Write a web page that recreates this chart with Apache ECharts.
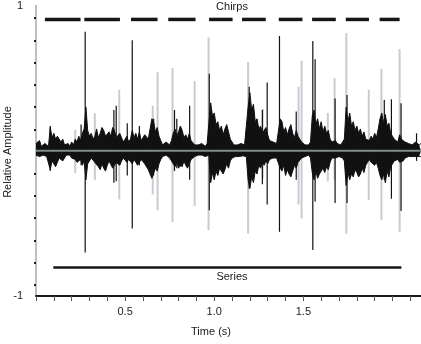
<!DOCTYPE html>
<html>
<head>
<meta charset="utf-8">
<script src="https://cdn.jsdelivr.net/npm/echarts@6/dist/echarts.min.js"></script>
<style>
  html, body { margin: 0; padding: 0; background: #fff; }
  #chart { width: 421px; height: 344px; }
</style>
</head>
<body>
<div id="chart"></div>
<script>
// waveform envelope sampled every 0.01 s (relative amplitude), rows of 0.1 s
const envStep = 0.01;
const envUpper = [
  0.05, 0.04, 0.07, 0.03, 0.04, 0.05, 0.05, 0.03, 0.16, 0.09,
  0.12, 0.08, 0.10, 0.11, 0.06, 0.08, 0.04, 0.05, 0.05, 0.03,
  0.06, 0.04, 0.08, 0.06, 0.10, 0.07, 0.12, 0.15, 0.30, 0.14,
  0.10, 0.12, 0.08, 0.10, 0.15, 0.09, 0.12, 0.16, 0.14, 0.10,
  0.11, 0.13, 0.10, 0.16, 0.14, 0.09, 0.10, 0.12, 0.09, 0.06,
  0.07, 0.10, 0.06, 0.08, 0.14, 0.09, 0.12, 0.08, 0.13, 0.07,
  0.09, 0.11, 0.12, 0.08, 0.15, 0.22, 0.20, 0.13, 0.16, 0.10,
  0.07, 0.04, 0.05, 0.06, 0.05, 0.04, 0.07, 0.12, 0.15, 0.10,
  0.13, 0.17, 0.14, 0.09, 0.11, 0.08, 0.12, 0.07, 0.06, 0.04,
  0.05, 0.04, 0.04, 0.05, 0.05, 0.03, 0.05, 0.06, 0.33, 0.24,
  0.26, 0.18, 0.20, 0.14, 0.17, 0.11, 0.15, 0.18, 0.13, 0.08,
  0.06, 0.04, 0.05, 0.04, 0.04, 0.05, 0.05, 0.04, 0.05, 0.30,
  0.40, 0.28, 0.32, 0.20, 0.22, 0.15, 0.17, 0.12, 0.13, 0.16,
  0.11, 0.07, 0.08, 0.06, 0.07, 0.05, 0.06, 0.22, 0.20, 0.13,
  0.16, 0.11, 0.15, 0.18, 0.12, 0.09, 0.14, 0.10, 0.08, 0.06,
  0.06, 0.04, 0.05, 0.04, 0.06, 0.24, 0.28, 0.18, 0.22, 0.15,
  0.20, 0.13, 0.17, 0.12, 0.14, 0.08, 0.06, 0.05, 0.07, 0.05,
  0.05, 0.04, 0.06, 0.08, 0.30, 0.20, 0.26, 0.17, 0.20, 0.14,
  0.17, 0.12, 0.15, 0.10, 0.13, 0.08, 0.09, 0.07, 0.10, 0.08,
  0.12, 0.09, 0.15, 0.22, 0.26, 0.19, 0.25, 0.17, 0.19, 0.12,
  0.12, 0.08, 0.09, 0.06, 0.11, 0.08, 0.09, 0.06, 0.07, 0.05,
  0.06, 0.04, 0.05, 0.06, 0.07, 0.04, 0.05
];
const envLower = [
  -0.03, -0.02, -0.04, -0.03, -0.03, -0.04, -0.04, -0.03, -0.13, -0.07,
  -0.09, -0.11, -0.08, -0.05, -0.06, -0.07, -0.05, -0.03, -0.04, -0.03,
  -0.05, -0.04, -0.06, -0.08, -0.09, -0.06, -0.10, -0.07, -0.20, -0.09,
  -0.07, -0.05, -0.06, -0.08, -0.09, -0.11, -0.13, -0.09, -0.12, -0.14,
  -0.10, -0.07, -0.08, -0.12, -0.11, -0.08, -0.08, -0.10, -0.07, -0.05,
  -0.06, -0.08, -0.06, -0.05, -0.09, -0.06, -0.08, -0.10, -0.09, -0.06,
  -0.07, -0.09, -0.10, -0.13, -0.14, -0.19, -0.18, -0.12, -0.14, -0.09,
  -0.06, -0.04, -0.04, -0.03, -0.04, -0.05, -0.05, -0.09, -0.11, -0.08,
  -0.12, -0.09, -0.11, -0.07, -0.10, -0.12, -0.09, -0.06, -0.05, -0.04,
  -0.04, -0.03, -0.04, -0.03, -0.03, -0.04, -0.04, -0.03, -0.22, -0.15,
  -0.20, -0.14, -0.17, -0.12, -0.14, -0.16, -0.13, -0.09, -0.12, -0.07,
  -0.05, -0.04, -0.04, -0.03, -0.04, -0.03, -0.035, -0.04, -0.04, -0.20,
  -0.26, -0.18, -0.22, -0.14, -0.16, -0.10, -0.12, -0.08, -0.10, -0.07,
  -0.09, -0.06, -0.07, -0.05, -0.06, -0.05, -0.06, -0.12, -0.14, -0.10,
  -0.17, -0.13, -0.16, -0.18, -0.14, -0.10, -0.12, -0.08, -0.07, -0.05,
  -0.05, -0.04, -0.04, -0.03, -0.05, -0.15, -0.20, -0.14, -0.19, -0.16,
  -0.17, -0.12, -0.15, -0.11, -0.13, -0.08, -0.05, -0.04, -0.05, -0.04,
  -0.04, -0.05, -0.05, -0.07, -0.24, -0.15, -0.20, -0.16, -0.18, -0.13,
  -0.15, -0.18, -0.16, -0.12, -0.15, -0.10, -0.08, -0.06, -0.08, -0.07,
  -0.10, -0.08, -0.12, -0.17, -0.20, -0.16, -0.22, -0.14, -0.18, -0.11,
  -0.10, -0.07, -0.08, -0.06, -0.08, -0.07, -0.07, -0.05, -0.06, -0.04,
  -0.05, -0.04, -0.05, -0.04, -0.05, -0.04, -0.04
];

// single peaks: [time, top, bottom]
const blackSpikes = [
  [0.08, 0.17, -0.14], [0.253, 0.18, -0.10], [0.276, 0.82, -0.70],
  [0.437, 0.28, -0.22], [0.45, 0.31, -0.21], [0.512, 0.19, -0.17],
  [0.54, 0.76, -0.535], [0.58, 0.17, -0.10], [0.66, 0.22, -0.17],
  [0.777, 0.28, -0.14], [0.79, 0.22, -0.12], [0.81, 0.17, -0.11],
  [0.862, 0.31, -0.20], [0.972, 0.53, -0.41], [1.196, 0.44, -0.26],
  [1.27, 0.28, -0.23], [1.297, 0.47, -0.37], [1.366, 0.79, -0.558],
  [1.46, 0.27, -0.20], [1.553, 0.755, -0.684], [1.566, 0.63, -0.35],
  [1.678, 0.36, -0.36], [1.745, 0.384, -0.36], [1.954, 0.35, -0.20],
  [1.994, 0.354, -0.33], [2.048, 0.327, -0.415], [2.135, 0.12, -0.07]
];
const graySpikes = [
  [0.22, 0.145, -0.154], [0.33, 0.258, -0.20], [0.467, 0.42, -0.335],
  [0.655, 0.31, -0.30], [0.682, 0.54, -0.41], [0.766, 0.57, -0.49],
  [0.89, 0.48, -0.38], [0.968, 0.78, -0.546], [1.19, 0.61, -0.57],
  [1.272, 0.29, -0.19], [1.473, 0.44, -0.37], [1.49, 0.62, -0.466],
  [1.637, 0.26, -0.21], [1.675, 0.50, -0.20], [1.741, 0.81, -0.57],
  [1.867, 0.42, -0.34], [1.938, 0.565, -0.478], [2.04, 0.70, -0.558]
];

// annotation bars: [start, end]
const chirpDashes = [
  [0.05, 0.25], [0.271, 0.471], [0.533, 0.682], [0.742, 0.895],
  [0.971, 1.103], [1.156, 1.289], [1.362, 1.495], [1.549, 1.682],
  [1.738, 1.868], [1.928, 2.04]
];
const chirpLevel = 0.904;
const seriesSpan = [[0.097, 2.05]];
const seriesLevel = -0.803;

const xLabelValues = [0.5, 1.0, 1.5];
const yLabelValues = [-1, 1];
const yTickValues = [-0.924, -0.771, -0.617, -0.464, -0.311, -0.158,
  0.148, 0.301, 0.454, 0.607, 0.760, 0.913];

const FONT = 'Liberation Sans, Arial, sans-serif';

function spikeRenderer(color, width) {
  return function (params, api) {
    const a = api.coord([api.value(0), api.value(1)]);
    const b = api.coord([api.value(0), api.value(2)]);
    return {
      type: 'line',
      shape: { x1: a[0], y1: a[1], x2: b[0], y2: b[1] },
      style: { stroke: color, lineWidth: width }
    };
  };
}

function barRenderer(level, width) {
  return function (params, api) {
    const a = api.coord([api.value(0), level]);
    const b = api.coord([api.value(1), level]);
    return {
      type: 'line',
      shape: { x1: a[0], y1: a[1], x2: b[0], y2: b[1] },
      style: { stroke: '#161616', lineWidth: width }
    };
  };
}

const chart = echarts.init(document.getElementById('chart'), null, { renderer: 'canvas' });

chart.setOption({
  animation: false,
  grid: { left: 36, right: 0, top: 5, bottom: 48 },
  xAxis: {
    type: 'value',
    min: 0,
    max: 2.16,
    interval: 0.1,
    axisLine: { onZero: false, lineStyle: { color: '#1a1a1a', width: 2 } },
    axisTick: { length: 5, lineStyle: { color: '#555', width: 1 } },
    axisLabel: {
      customValues: xLabelValues,
      formatter: v => v.toFixed(1),
      color: '#222', fontFamily: FONT, fontSize: 11, margin: 10
    },
    splitLine: { show: false }
  },
  yAxis: {
    type: 'value',
    min: -1,
    max: 1,
    axisLine: { show: true, onZero: false, lineStyle: { color: '#a8a8a8', width: 1.5 } },
    axisTick: { show: true, customValues: yTickValues, length: 2, lineStyle: { color: '#222', width: 2 } },
    axisLabel: {
      customValues: yLabelValues,
      color: '#222', fontFamily: FONT, fontSize: 11, margin: 13
    },
    splitLine: { show: false }
  },
  graphic: [
    { type: 'text', x: 232, y: 7, style: { text: 'Chirps', fill: '#1a1a1a', font: '11px ' + FONT, align: 'center', verticalAlign: 'middle' } },
    { type: 'text', x: 232, y: 277, style: { text: 'Series', fill: '#1a1a1a', font: '11px ' + FONT, align: 'center', verticalAlign: 'middle' } },
    { type: 'text', x: 211, y: 332, style: { text: 'Time (s)', fill: '#1a1a1a', font: '11px ' + FONT, align: 'center', verticalAlign: 'middle' } },
    { type: 'text', x: 8, y: 152, rotation: Math.PI / 2, style: { text: 'Relative Amplitude', fill: '#1a1a1a', font: '11px ' + FONT, align: 'center', verticalAlign: 'middle' } }
  ],
  series: [
    {
      type: 'custom', z: 1,
      renderItem: spikeRenderer('#c6ccd1', 2),
      encode: { x: 0, y: [1, 2] },
      data: graySpikes
    },
    {
      type: 'line', z: 2, symbol: 'none', smooth: false,
      lineStyle: { color: '#111', width: 1 },
      areaStyle: { color: '#111', opacity: 1 },
      data: envUpper.map((v, i) => [i * envStep, v])
    },
    {
      type: 'line', z: 2, symbol: 'none', smooth: false,
      lineStyle: { color: '#111', width: 1 },
      areaStyle: { color: '#111', opacity: 1 },
      data: envLower.map((v, i) => [i * envStep, v])
    },
    {
      type: 'custom', z: 3,
      renderItem: spikeRenderer('#111', 1.2),
      encode: { x: 0, y: [1, 2] },
      data: blackSpikes
    },
    {
      type: 'line', z: 4, symbol: 'none',
      lineStyle: { color: '#7f8d8d', width: 2 },
      data: [[0, 0], [2.16, 0]]
    },
    {
      type: 'custom', z: 3,
      renderItem: barRenderer(chirpLevel, 3.5),
      encode: { x: [0, 1] },
      data: chirpDashes
    },
    {
      type: 'custom', z: 3,
      renderItem: barRenderer(seriesLevel, 2.5),
      encode: { x: [0, 1] },
      data: seriesSpan
    }
  ]
});
</script>
</body>
</html>
